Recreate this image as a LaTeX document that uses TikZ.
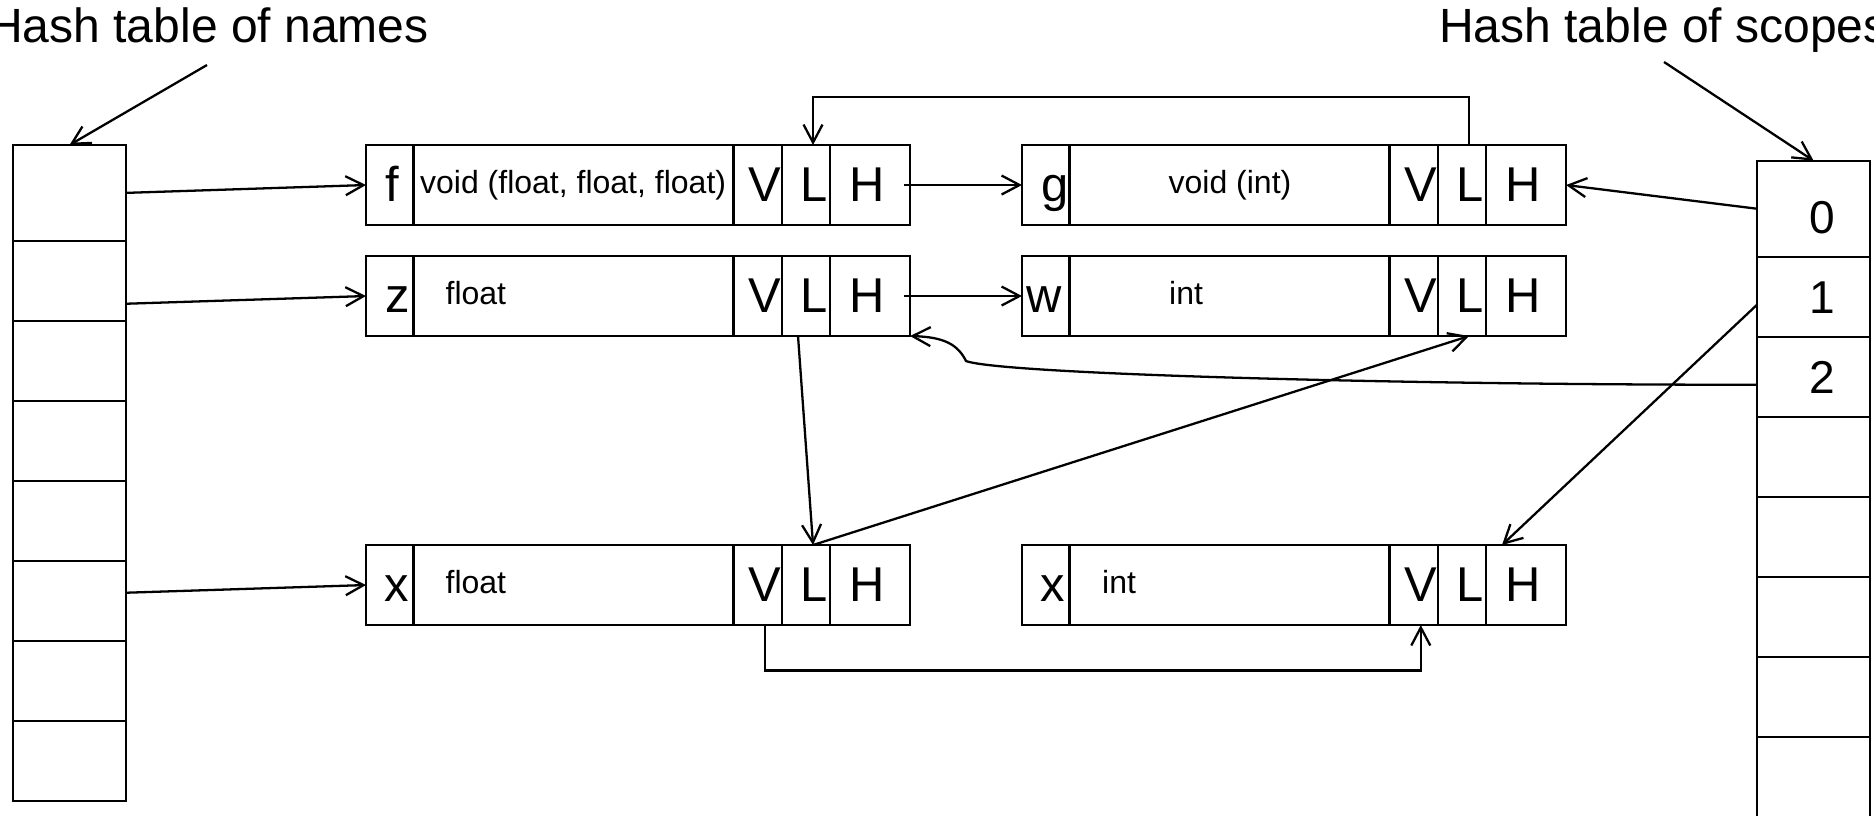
\documentclass[tikz,border=0pt]{standalone}
\usepackage{fontspec}
\setmainfont{Liberation Sans}
\usetikzlibrary{arrows.meta}
\tikzset{
  cell/.style={draw, rectangle, inner sep=0pt, outer sep=0pt, anchor=north west, minimum height=0.8cm},
  big/.style={font=\fontsize{13.9}{16}\selectfont, inner sep=0pt, anchor=base},
  small/.style={font=\fontsize{9.1}{11}\selectfont, inner sep=0pt},
  ttl/.style={font=\fontsize{13.66}{16}\selectfont, inner sep=0pt, anchor=base west},
  digit/.style={font=\fontsize{13.1}{16}\selectfont, inner sep=0pt, anchor=base},
  arr/.style={-{Straight Barb[length=1.8mm,width=1.9mm]}},
}
\newcommand\mkrec[8]{%
  \node[cell, minimum width=0.475cm] (#1n) at (#2,#3) {};
  \node[cell, minimum width=3.2cm] (#1t) at (#2+47.5,#3) {};
  \node[cell, minimum width=0.485cm] (#1v) at (#2+367.5,#3) {};
  \node[cell, minimum width=0.48cm] (#1l) at (#2+416,#3) {};
  \node[cell, minimum width=0.8cm] (#1h) at (#2+464,#3) {};
  \node[big] (#1nt) at (#2+#5,#3+56) {#4};
  \node[small, anchor=#7] (#1tt) at (#2+#6,#3+48) {#8};
  \node[big] (#1vt) at (#2+399,#3+56) {V};
  \node[big] (#1lt) at (#2+448,#3+56) {L};
  \node[big] (#1ht) at (#2+501,#3+56) {H};
}
\begin{document}
\begin{tikzpicture}[x=0.01cm, y=-0.01cm, line width=0.65pt]
\useasboundingbox (0,0) rectangle (1874,815);

% titles
\node[ttl] (tN) at (-13,42) {Hash table of names};
\node[ttl] (tS) at (1438,42) {Hash table of scopes};
\coordinate (aN) at (207,65);
\coordinate (aS) at (1664,62);

% left hash table (names)
\node[cell, minimum width=1.13cm, minimum height=0.957cm] (L0) at (13,145) {};
\foreach \i in {1,...,7} {
  \node[cell, minimum width=1.13cm] (L\i) at (13,{160.7+80*\i}) {};
}

% right hash table (scopes)
\node[cell, minimum width=1.13cm, minimum height=0.96cm] (R0) at (1757,160.7) {};
\foreach \i in {1,...,6} {
  \node[cell, minimum width=1.13cm] (R\i) at (1757,{176.7+80*\i}) {};
}
\node[cell, minimum width=1.13cm, minimum height=1.3cm] (R7) at (1757,736.7) {};
\node[digit] (d0) at (1822,233) {0};
\node[digit] (d1) at (1822,313) {1};
\node[digit] (d2) at (1822,393) {2};

% records
\mkrec{f}{366}{145}{f}{26.5}{53}{base west}{void (float, float, float)}
\mkrec{g}{1022}{145}{g}{33}{208}{base}{void (int)}
\mkrec{z}{366}{256}{z}{31.5}{78.5}{base west}{float}
\mkrec{w}{1022}{256}{w}{22}{146}{base west}{int}
\mkrec{xf}{366}{545}{x}{31}{78.5}{base west}{float}
\mkrec{xi}{1022}{545}{x}{31}{79}{base west}{int}

% connectors
\draw[arr] (aN) -- (L0.north);
\draw[arr] (aS) -- (R0.north);
\draw[arr] (L0.east) -- (fn.west);
\draw[arr] ([yshift=-0.23cm]L1.east) -- (zn.west);
\draw[arr] ([yshift=0.08cm]L5.east) -- (xfn.west);
\draw[arr] ([xshift=-0.06cm]fh.east) -- (gn.west);
\draw[arr] ([xshift=-0.06cm]zh.east) -- (wn.west);
\draw[arr] ([xshift=0.07cm]gl.north) -- ++(0,0.483cm) -| ([xshift=0.07cm]fl.north);
\draw[arr] (R0.west) -- (gh.east);
\draw[arr] ([yshift=-0.08cm]R1.west) -- ([xshift=0.16cm]xih.north west);
\coordinate (bend) at (966,361);
\draw[arr] ([yshift=-0.08cm]R2.west) .. controls (1400,385) and (1000,374) .. (bend)
   .. controls (958,345) and (945,337) .. (zh.south east);
\draw[arr] ([xshift=-0.08cm]zl.south) -- ([xshift=0.07cm]xfl.north);
\draw[arr] ([xshift=0.07cm]xfl.north) -- ([xshift=0.07cm]wl.south);
\draw[arr] ([xshift=0.07cm]xfv.south) -- ++(0,-0.455cm) -| ([xshift=0.07cm]xiv.south);
\end{tikzpicture}
\end{document}
